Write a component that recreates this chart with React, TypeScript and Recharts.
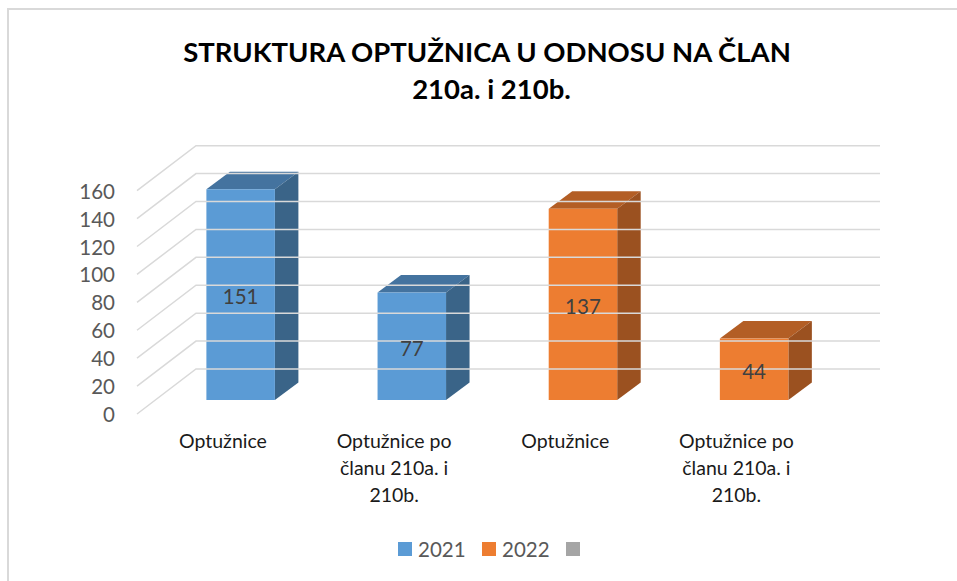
import { Bar, BarChart, LabelList, Legend, XAxis, YAxis } from "recharts";

const categories = [
  "Optužnice",
  "Optužnice po\nčlanu 210a. i\n210b.",
  "Optužnice",
  "Optužnice po\nčlanu 210a. i\n210b.",
];
const values2021 = [151, 77, null, null];
const values2022 = [null, null, 137, 44];
const valuesEmpty = [null, null, null, null];
const yTicks = [0, 20, 40, 60, 80, 100, 120, 140, 160];
const titleLines = ["STRUKTURA OPTUŽNICA U ODNOSU NA ČLAN", "210a. i 210b."];

const data = categories.map((name, i) => ({
  name,
  y2021: values2021[i],
  y2022: values2022[i],
  empty: valuesEmpty[i],
}));

const FONT = "Lato, sans-serif";
const DEPTH_X = 23.5;
const DEPTH_Y = 17.5;

function Bar3D(props: any) {
  const { x, y, width, height, fill, topFill, sideFill } = props;
  if (!height || height <= 0) return null;
  const r = x + width;
  const b = y + height;
  return (
    <g>
      <polygon
        points={`${x},${y} ${x + DEPTH_X},${y - DEPTH_Y} ${r + DEPTH_X},${y - DEPTH_Y} ${r},${y}`}
        fill={topFill}
      />
      <polygon
        points={`${r},${y} ${r + DEPTH_X},${y - DEPTH_Y} ${r + DEPTH_X},${b - DEPTH_Y} ${r},${b}`}
        fill={sideFill}
      />
      <rect x={x} y={y} width={width} height={height} fill={fill} />
    </g>
  );
}

// value label plus the floor/wall gridline, both hang off the axis scale
function YTick({ y, payload }: any) {
  return (
    <g>
      <polyline
        points={`137,${y + 14} 196,${y - 31} 880,${y - 31}`}
        fill="none"
        stroke="#d9d9d9"
        strokeWidth={1.5}
      />
      <text
        x={115}
        y={y + 22}
        textAnchor="end"
        fontFamily={FONT}
        fontSize={20.5}
        fill="#595959"
      >
        {payload.value}
      </text>
    </g>
  );
}

function XTick({ x, y, payload }: any) {
  const lines = String(payload.value).split("\n");
  return (
    <text textAnchor="middle" fontFamily={FONT} fontSize={19.5} fill="#1a1a1a">
      {lines.map((line, i) => (
        <tspan key={i} x={x - 18} y={y + 46 + i * 27}>
          {line}
        </tspan>
      ))}
    </text>
  );
}

function LegendContent({ payload }: any) {
  return (
    <div
      style={{
        display: "flex",
        alignItems: "center",
        height: 30,
        marginLeft: 398,
        fontFamily: FONT,
        fontSize: 20.5,
        color: "#595959",
      }}
    >
      {(payload ?? []).map((item: any) => (
        <div
          key={item.dataKey}
          style={{ display: "flex", alignItems: "center", width: 84 }}
        >
          <span
            style={{
              display: "inline-block",
              width: 14,
              height: 14,
              marginRight: 6,
              background: item.color,
            }}
          />
          <span>{item.value}</span>
        </div>
      ))}
    </div>
  );
}

const labelStyle = { fontFamily: FONT, fontSize: 20.5, fill: "#404040" };

export default function App() {
  return (
    <div
      style={{
        position: "absolute",
        left: 0,
        top: 0,
        width: 957,
        height: 581,
        overflow: "hidden",
        background: "#fff",
      }}
    >
      <div
        style={{
          position: "absolute",
          left: 7,
          top: 8,
          width: 1000,
          height: 700,
          border: "2px solid #d9d9d9",
        }}
      />
      <div
        style={{
          position: "absolute",
          left: 87,
          top: 33,
          width: 800,
          textAlign: "center",
          fontFamily: FONT,
          fontWeight: 700,
          fontSize: 27.5,
          lineHeight: "37px",
          color: "#000",
        }}
      >
        {titleLines.map((line, i) => (
          <div key={line} style={{ paddingLeft: i === 1 ? 9 : 0 }}>
            {line}
          </div>
        ))}
      </div>
      <div style={{ position: "absolute", left: 0, top: 0 }}>
        <BarChart
          width={957}
          height={581}
          data={data}
          margin={{ top: 176.7, right: 117, bottom: 17, left: 0 }}
          barSize={68.5}
        >
          <XAxis
            dataKey="name"
            height={134}
            axisLine={false}
            tickLine={false}
            tickSize={0}
            interval={0}
            tick={<XTick />}
          />
          <YAxis
            width={155.4}
            domain={[0, 160]}
            ticks={yTicks}
            interval={0}
            axisLine={false}
            tickLine={false}
            tick={<YTick />}
          />
          <Legend
            verticalAlign="bottom"
            itemSorter={null}
            content={<LegendContent />}
          />
          <Bar
            dataKey="y2021"
            name="2021"
            stackId="a"
            fill="#5b9bd5"
            isAnimationActive={false}
            shape={(p: any) => (
              <Bar3D {...p} topFill="#44739f" sideFill="#3a6488" />
            )}
          >
            <LabelList dataKey="y2021" position="center" dy={2} style={labelStyle} />
          </Bar>
          <Bar
            dataKey="y2022"
            name="2022"
            stackId="a"
            fill="#ed7d31"
            isAnimationActive={false}
            shape={(p: any) => (
              <Bar3D {...p} topFill="#b35e25" sideFill="#9b5120" />
            )}
          >
            <LabelList dataKey="y2022" position="center" dy={2} style={labelStyle} />
          </Bar>
          <Bar
            dataKey="empty"
            name=" "
            stackId="a"
            fill="#a5a5a5"
            isAnimationActive={false}
            shape={(p: any) => <Bar3D {...p} topFill="#7c7c7c" sideFill="#6b6b6b" />}
          />
        </BarChart>
      </div>
    </div>
  );
}
